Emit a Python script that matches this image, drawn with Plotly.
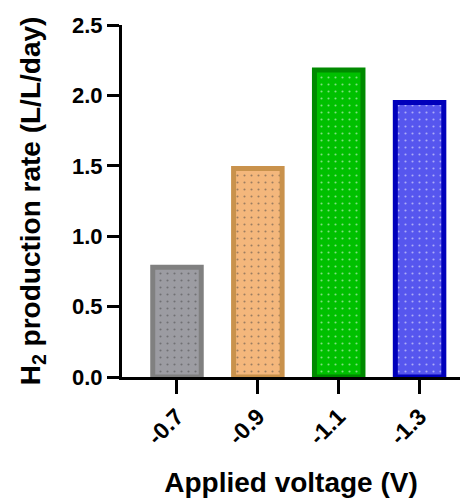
import plotly.graph_objects as go

# Hydrogen production rate at each applied cathode voltage
voltages = ["-0.7", "-0.9", "-1.1", "-1.3"]
rates = [0.78, 1.48, 2.18, 1.95]

fill_colors = ["#9c9ca2", "#f4b77c", "#00c000", "#5656ee"]
edge_colors = ["#808080", "#c9924c", "#008a00", "#0000bb"]
dot_colors = ["#ffffff", "#3a6c9c", "#e050e0", "#303050"]

y_ticks = [0.0, 0.5, 1.0, 1.5, 2.0, 2.5]

FONT = "Arial, 'Liberation Sans', sans-serif"

fig = go.Figure(
    go.Bar(
        x=voltages,
        y=rates,
        width=0.6,
        marker=dict(
            color=fill_colors,
            line=dict(color=edge_colors, width=5),
            pattern=dict(
                shape=".",
                fgcolor=dot_colors,
                bgcolor=fill_colors,
                size=7,
                solidity=0.07,
                fillmode="overlay",
            ),
        ),
    )
)

fig.update_layout(
    width=462,
    height=502,
    margin=dict(l=122, r=2, t=25, b=125),
    plot_bgcolor="white",
    paper_bgcolor="white",
    showlegend=False,
    font=dict(family=FONT, color="black"),
)

fig.update_xaxes(
    type="category",
    range=[-0.68, 3.5],
    showline=True,
    linecolor="black",
    linewidth=3,
    ticks="outside",
    ticklen=14,
    tickwidth=3,
    tickcolor="black",
    tickangle=-45,
    tickfont=dict(size=23, family=FONT, weight="bold"),
    title=dict(text="Applied voltage (V)", font=dict(size=28, family=FONT, weight="bold"), standoff=24),
    showgrid=False,
    zeroline=False,
)

fig.update_yaxes(
    range=[0, 2.5],
    tickvals=y_ticks,
    ticktext=[f"{v:.1f}" for v in y_ticks],
    showline=True,
    linecolor="black",
    linewidth=3,
    ticks="outside",
    ticklen=12,
    tickwidth=3,
    tickcolor="black",
    tickfont=dict(size=22, family=FONT, weight="bold"),
    title=dict(text="H<sub>2</sub> production rate (L/L/day)", font=dict(size=28, family=FONT, weight="bold"), standoff=24),
    showgrid=False,
    zeroline=False,
)

fig.write_html("out.html")
